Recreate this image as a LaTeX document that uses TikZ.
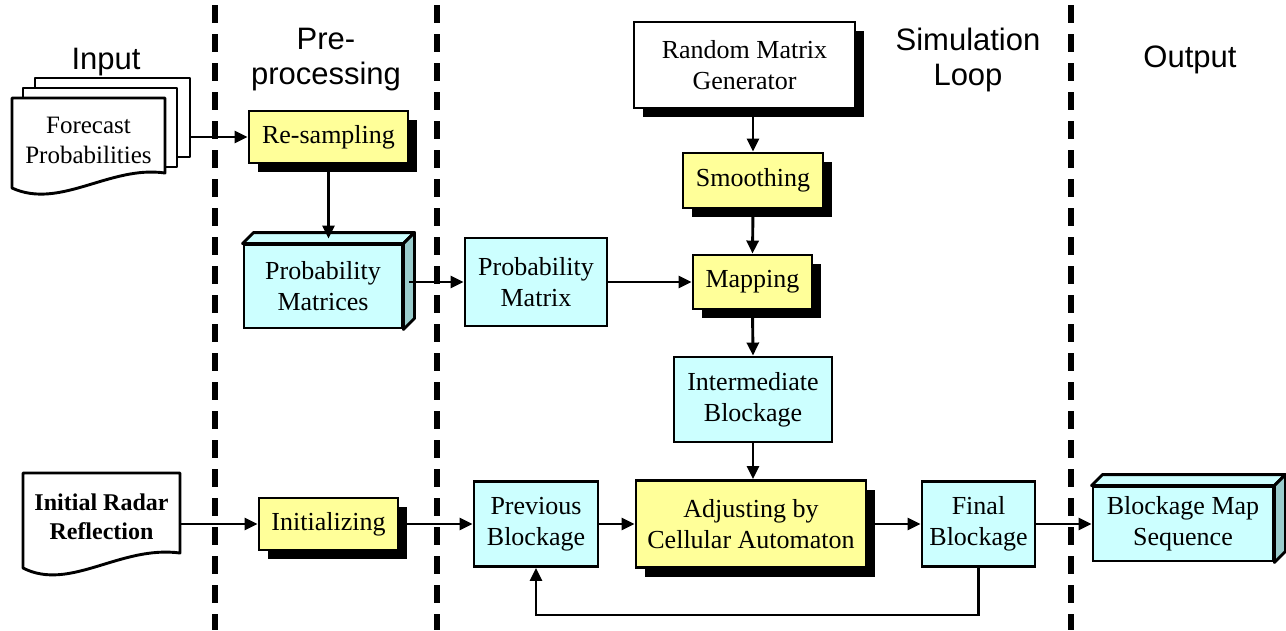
\documentclass[tikz,border=0pt]{standalone}
\usepackage{fontspec}
\setmainfont{Liberation Serif}
\newfontfamily\hdrfont{Liberation Sans}
\usetikzlibrary{arrows.meta,shadows,calc}
\definecolor{yellowfill}{HTML}{FFFF99}
\definecolor{cyanfill}{HTML}{CCFFFF}
\definecolor{sidefill}{HTML}{99CCCC}
\begin{document}
\begin{tikzpicture}[x=1pt,y=-1pt,
  box/.style={draw=black, line width=2.9pt, inner sep=0pt, align=center,
    font=\fontsize{26}{31}\selectfont},
  databox/.style={box, fill=cyanfill},
  procbox/.style={box, fill=yellowfill,
    drop shadow={shadow xshift=9pt, shadow yshift=-9pt, opacity=1, fill=black}},
  plainbox/.style={box, fill=white,
    drop shadow={shadow xshift=9pt, shadow yshift=-9pt, opacity=1, fill=black}},
  face/.style={draw=black, line width=2.9pt, line join=round},
  docline/.style={draw=black, line width=2.9pt, fill=white, line join=round},
  arr/.style={line width=2.9pt, -{Triangle[length=13pt,width=12pt]}},
  sep/.style={line width=6pt, dash pattern=on 18pt off 11pt},
  hdr/.style={font=\hdrfont\fontsize{31}{35}\selectfont, align=center},
  dims/.style 2 args={minimum width=#1pt, minimum height=#2pt}]

\useasboundingbox (0,0) rectangle (1286,630);

% lane separators
\draw[sep] (215,5) -- (215,630);
\draw[sep] (437,5) -- (437,630);
\draw[sep] (1071,5) -- (1071,630);

% lane titles
\node[hdr] (hin)  at (106,62)  {Input};
\node[hdr] (hpre) at (326,60)  {Pre-\\processing};
\node[hdr] (hsim) at (968,60)  {Simulation\\Loop};
\node[hdr] (hout) at (1190,60) {Output};

% stacked forecast documents
\node[docline, dims={155}{79}] (fb) at (112.5,117.5) {};
\node[docline, dims={154}{79}] (fm) at (100,127.5) {};
\draw[docline] (12,98) -- (165,98) -- (165,173)
  .. controls (110,165) and (60,210) .. (12,188) -- cycle;
\node[align=center, font=\fontsize{25}{30}\selectfont] (fc) at (88.5,140)
  {Forecast\\Probabilities};

% initial radar document
\draw[docline] (23,473) -- (180,473) -- (180,553)
  .. controls (120,545) and (70,592) .. (23,568) -- cycle;
\node[align=center, inner sep=0pt, minimum width=157pt,
  font=\bfseries\fontsize{24}{29}\selectfont] (ird) at (101.5,517)
  {Initial Radar\\Reflection};

% processing steps
\node[procbox, dims={159}{52}] (rs)  at (328.5,137) {Re-sampling};
\node[procbox, dims={139}{52}] (ini) at (328.5,524) {Initializing};
\node[plainbox, dims={221}{86}] (rmg) at (744.5,65) {Random Matrix\\Generator};
\node[procbox, dims={140}{55}] (sm)  at (753,180.5) {Smoothing};
\node[procbox, dims={119}{54}] (map) at (752.5,282) {Mapping};
\node[procbox, dims={230}{87}] (adj) at (751,524) {Adjusting by\\Cellular Automaton};

% data boxes
\node[databox, dims={142}{88}] (pm)   at (536,282)   {Probability\\Matrix};
\node[databox, dims={158}{85}] (ib)   at (753,399.5) {Intermediate\\Blockage};
\node[databox, dims={124}{85}] (prev) at (536,524)   {Previous\\Blockage};
\node[databox, dims={113}{85}] (fin)  at (978.5,524) {Final\\Blockage};

% stored matrices (3D boxes)
\node[databox, dims={158}{83}] (pms) at (323,286.5) {Probability\\Matrices};
\draw[face, fill=cyanfill] (pms.north west) -- ++(11,-11)
  -- ($(pms.north east)+(11,-11)$) -- (pms.north east) -- cycle;
\draw[face, fill=sidefill] (pms.north east) -- ++(11,-11)
  -- ($(pms.south east)+(11,-11)$) -- (pms.south east) -- cycle;

\node[databox, dims={180}{74}] (bms) at (1183,524) {Blockage Map\\Sequence};
\draw[face, fill=cyanfill] (bms.north west) -- ++(11,-11)
  -- ($(bms.north east)+(11,-11)$) -- (bms.north east) -- cycle;
\draw[face, fill=sidefill] (bms.north east) -- ++(11,-11)
  -- ($(bms.south east)+(11,-11)$) -- (bms.south east) -- cycle;

% connectors
\draw[arr] (fb.east |- rs.west) -- (rs.west);
\draw[arr] (rs.south) -- ($(rs.south |- pms.north)+(0,-5)$);
\draw[arr] ($(pms.east |- pm.west)+(6,0)$) -- (pm.west);
\draw[arr] (pm.east) -- (map.west);
\draw[arr] (sm.north |- rmg.south) -- (sm.north);
\draw[arr] (sm.south) -- (map.north);
\draw[arr] (map.south) -- (ib.north);
\draw[arr] (ib.south) -- (ib.south |- adj.north);
\draw[arr] (ird.east |- ini.west) -- (ini.west);
\draw[arr] (ini.east) -- (prev.west);
\draw[arr] (prev.east) -- (adj.west);
\draw[arr] (adj.east) -- (fin.west);
\draw[arr] (fin.east) -- (bms.west);
\draw[arr] (fin.south) -- ++(0,47) -| (prev.south);
\end{tikzpicture}
\end{document}
